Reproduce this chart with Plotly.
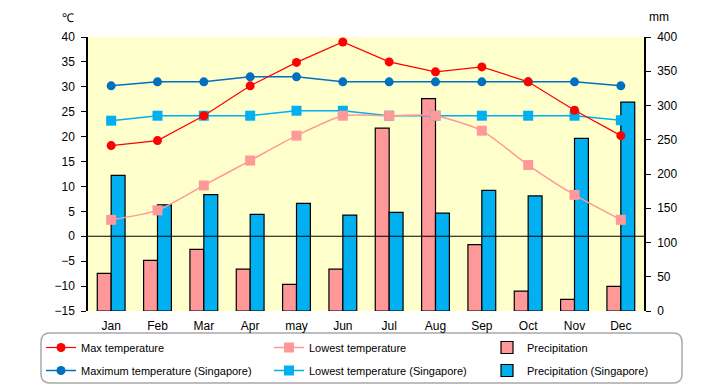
import plotly.graph_objects as go

months = ["Jan", "Feb", "Mar", "Apr", "may", "Jun", "Jul", "Aug", "Sep", "Oct", "Nov", "Dec"]
max_temp = [18.2, 19.2, 24.2, 30.2, 34.9, 39.0, 35.0, 33.0, 34.0, 31.0, 25.3, 20.2]
low_temp = [3.3, 5.2, 10.2, 15.2, 20.2, 24.2, 24.2, 24.2, 21.2, 14.3, 8.3, 3.3]
precip = [55, 74, 90, 61, 39, 61, 267, 310, 97, 29, 17, 36]
sg_max_temp = [30.2, 31, 31, 32, 32, 31, 31, 31, 31, 31, 31, 30.2]
sg_low_temp = [23.2, 24.2, 24.2, 24.2, 25.2, 25.2, 24.2, 24.2, 24.2, 24.2, 24.2, 23.3]
sg_precip = [198, 155, 170, 141, 157, 140, 144, 143, 176, 168, 252, 305]
temp_ticks = list(range(-15, 41, 5))
mm_ticks = list(range(0, 401, 50))

FONT = "Liberation Sans"
RED = "#FF0000"
PINK = "#FF9999"
BLUE = "#0070C0"
CYAN = "#00B0F0"

fig = go.Figure()
# bars on primary (right) axis, lines on overlaid temperature axis (left)
fig.add_trace(go.Bar(x=months, y=precip, name="Precipitation", marker=dict(color=PINK, line=dict(color="black", width=1.2)),
                     yaxis="y", legend="legend3"))
fig.add_trace(go.Bar(x=months, y=sg_precip, name="Precipitation (Singapore)", marker=dict(color=CYAN, line=dict(color="black", width=1.2)),
                     yaxis="y", legend="legend6"))
fig.add_trace(go.Scatter(x=months, y=sg_max_temp, name="Maximum temperature (Singapore)", mode="lines+markers",
                         line=dict(color=BLUE, width=1.5), marker=dict(symbol="circle", size=9, color=BLUE),
                         yaxis="y2", legend="legend4"))
fig.add_trace(go.Scatter(x=months, y=sg_low_temp, name="Lowest temperature (Singapore)", mode="lines+markers",
                         line=dict(color=CYAN, width=1.5), marker=dict(symbol="square", size=10, color=CYAN),
                         yaxis="y2", legend="legend5"))
fig.add_trace(go.Scatter(x=months, y=low_temp, name="Lowest temperature", mode="lines+markers",
                         line=dict(color=PINK, width=1.5, shape="spline", smoothing=0.6), marker=dict(symbol="square", size=10, color=PINK),
                         yaxis="y2", legend="legend2"))
fig.add_trace(go.Scatter(x=months, y=max_temp, name="Max temperature", mode="lines+markers",
                         line=dict(color=RED, width=1.2), marker=dict(symbol="circle", size=9, color=RED),
                         yaxis="y2", legend="legend"))

# page body has an 8px margin, so the figure starts at screen (8, 8)
OFF = 8
FW, FH = 720 - OFF, 385 - OFF
W0, W1, H0, H1 = 88, 644, 37, 311   # plot area in screen pixels
pw, ph = W1 - W0, H1 - H0
def px(x): return (x - W0) / pw
def py(y): return (H1 - y) / ph

# rounded legend frame
x0, x1, y0, y1, r = 41, 682, 333, 383, 9
path = (f"M {px(x0+r)} {py(y0)} L {px(x1-r)} {py(y0)} Q {px(x1)} {py(y0)} {px(x1)} {py(y0+r)} "
        f"L {px(x1)} {py(y1-r)} Q {px(x1)} {py(y1)} {px(x1-r)} {py(y1)} "
        f"L {px(x0+r)} {py(y1)} Q {px(x0)} {py(y1)} {px(x0)} {py(y1-r)} "
        f"L {px(x0)} {py(y0+r)} Q {px(x0)} {py(y0)} {px(x0+r)} {py(y0)} Z")

leg_common = dict(orientation="v", xanchor="left", yanchor="top", itemwidth=30,
                  font=dict(family=FONT, size=11), bgcolor="rgba(0,0,0,0)")
cols = [41, 269, 487]
rows = [333, 356]
legends = {}
for i, key in enumerate(["legend", "legend2", "legend3", "legend4", "legend5", "legend6"]):
    legends[key] = dict(x=px(cols[i % 3]), y=py(rows[i // 3]), **leg_common)

fig.update_layout(
    width=FW, height=FH,
    margin=dict(l=W0 - OFF, r=720 - W1, t=H0 - OFF, b=385 - H1, autoexpand=False),
    paper_bgcolor="white", plot_bgcolor="#FFFFCC",
    font=dict(family=FONT, size=12, color="black"),
    barmode="group", bargap=0.4, bargroupgap=0,
    showlegend=True,
    **legends,
    xaxis=dict(type="category", range=[-0.5, len(months) - 0.5], showgrid=False, showline=False,
               ticks="outside", ticklen=4, tickcolor="rgba(0,0,0,0)", tickfont=dict(size=12)),
    yaxis=dict(side="right", range=[0, 400], tickvals=mm_ticks, showgrid=False, zeroline=False,
               showline=True, linecolor="black", linewidth=1.5, ticks="outside", ticklen=5, tickcolor="black",
               ticklabelstandoff=4, tickfont=dict(size=12)),
    yaxis2=dict(side="left", overlaying="y", range=[-15, 40], tickvals=temp_ticks, showgrid=False, zeroline=False,
                showline=True, linecolor="black", linewidth=1.5, ticks="outside", ticklen=5, tickcolor="black",
                ticklabelstandoff=4, tickfont=dict(size=12)),
    shapes=[
        dict(type="line", xref="paper", x0=0, x1=1, yref="y2", y0=0, y1=0, line=dict(color="black", width=1.2), layer="above"),
        dict(type="path", xref="paper", yref="paper", path=path, line=dict(color="#A8A8A8", width=1.5), layer="below"),
    ],
    annotations=[
        dict(text="℃", xref="paper", yref="paper", x=px(61), y=py(26), yanchor="bottom", showarrow=False,
             font=dict(size=12), borderpad=0),
        dict(text="mm", xref="paper", yref="paper", x=px(670), y=py(25), yanchor="bottom", showarrow=False,
             font=dict(size=12), borderpad=0),
    ],
)

fig.write_html("out.html")
